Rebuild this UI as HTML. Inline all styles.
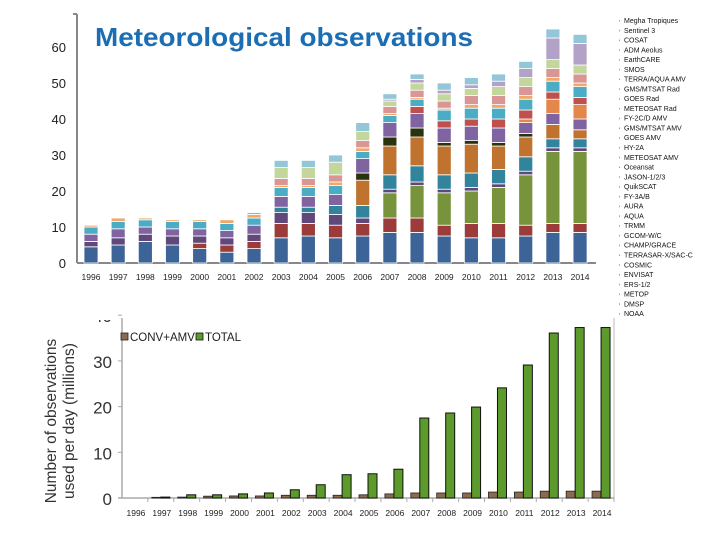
<!DOCTYPE html>
<html><head><meta charset="utf-8"><style>
html,body{margin:0;padding:0;background:#fff;}
svg{display:block;font-family:"Liberation Sans",sans-serif;}
</style></head><body>
<svg id="c" width="720" height="540" viewBox="0 0 720 540" xmlns="http://www.w3.org/2000/svg">
<text x="95" y="46" font-size="26" font-weight="bold" fill="#1b6db4" textLength="378" lengthAdjust="spacingAndGlyphs">Meteorological observations</text>
<g id="topg"></g><g id="legend"></g><g id="bot"></g>
<text transform="translate(64,421) rotate(-90)" text-anchor="middle" font-size="15.5" fill="#333"><tspan x="0" dy="-8">Number of observations</tspan><tspan x="0" dy="18">used per day (millions)</tspan></text>
</svg>
<script>
const years=["1996","1997","1998","1999","2000","2001","2002","2003","2004","2005","2006","2007","2008","2009","2010","2011","2012","2013","2014"];
// stacked series, bottom to top
const sNOAA   =[4.5,5,6,5,4,3,4,7,7.5,7,7.5,8.5,8.5,7.5,7,7,7.5,8.5,8.5];
const sDMSP   =[0,0,0,0,1.5,2,2,4,3.5,3.5,3.5,4,4,3,4,4,3,2.5,2.5];
const sMETOP  =[0,0,0,0,0,0,0,0,0,0,0,7,9,9,9,10,14,20,20];
const sERS    =[1.5,2,2,2.5,2,2,2,3,3,3,1.5,1,1,1,1,1,1,1,1];
const sCOSMIC =[0,0,0,0,0,0,0,1.5,1.5,2.5,3.5,4,4.5,4,4,4,4,2.5,2.5];
const sORANGE =[0,0,0,0,0,0,0,0,0,0,7,8,8,8,8,6.5,5.5,4,2.5];
const sDARK   =[0,0,0,0,0,0,0,0,0,0,2,2.5,2.5,1,1,1,1,0,0];
const sPURPLE =[2,2.5,2,2,2,2,2.5,3,3,3,4,4,4,4,4,4,3,3,3];
const sLORANGE=[0,0,0,0,0,0,0,0,0,0,0,0,0,0,0,0,1,4,4];
const sRED    =[0,0,0,0,0,0,0,0,0,0,0,0,2,2,2,2.5,2.5,2,2];
const sCYAN   =[2,2,2,2,2,2,2,2.5,2.5,2.5,2,2,2,3,3,3,3,3,3];
const sPEACH  =[0.5,1,0.5,0.5,0.5,1,1,0.5,0.5,1,1,0.5,0.5,0.5,1,1,1,1,1];
const sROSY   =[0,0,0,0,0,0,0.5,2,2,2,2,2,2,2,2.5,2.5,2.5,2.5,2.5];
const sLGREEN =[0,0,0,0,0,0,0,3,3,3.5,2.5,1.5,2,2,2,2.5,2.5,2.5,2.5];
const sLAV    =[0,0,0,0,0,0,0,0,0,0,0,0.5,1,1,1,1.5,2.5,6,6];
const sLBLUE  =[0,0,0,0,0,0,0,2,2,2,2.5,1.5,1.5,2,2,2,2,2.5,2.5];
const stackSeries=[sNOAA,sDMSP,sMETOP,sERS,sCOSMIC,sORANGE,sDARK,sPURPLE,sLORANGE,sRED,sCYAN,sPEACH,sROSY,sLGREEN,sLAV,sLBLUE];
const stackNames=["noaa","dmsp","metop","ers","cosmic","orange","dark","purple","light-orange","red","cyan","peach","rosy","light-green","lavender","light-blue"];
const stackColors=["#3d6496","#9b3b3a","#77933c","#60497a","#31849b","#c0722f","#2a330f","#8064a2","#e3884a","#c0504d","#4bacc6","#f0a868","#d99694","#c3d69b","#b3a2c7","#93c6d8"];
const topTicks=[0,10,20,30,40,50,60];
const legendItems=["Megha Tropiques","Sentinel 3","COSAT","ADM Aeolus","EarthCARE","SMOS","TERRA/AQUA AMV","GMS/MTSAT Rad","GOES Rad","METEOSAT Rad","FY-2C/D AMV","GMS/MTSAT AMV","GOES AMV","HY-2A","METEOSAT AMV","Oceansat","JASON-1/2/3","QuikSCAT","FY-3A/B","AURA","AQUA","TRMM","GCOM-W/C","CHAMP/GRACE","TERRASAR-X/SAC-C","COSMIC","ENVISAT","ERS-1/2","METOP","DMSP","NOAA"];
const convAmv=[0,0.15,0.2,0.4,0.45,0.45,0.6,0.6,0.6,0.7,0.9,1.1,1.1,1.1,1.3,1.3,1.5,1.5,1.5];
const total=[0,0.2,0.7,0.7,0.9,1.1,1.8,2.9,5.1,5.3,6.3,17.5,18.6,19.9,24.1,29.1,36.1,37.3,37.3];
const botTicks=[0,10,20,30,40];

const NS="http://www.w3.org/2000/svg";
function mk(p,t,a){const e=document.createElementNS(NS,t);for(const k in a)e.setAttribute(k,a[k]);p.appendChild(e);return e;}

// top chart
const topG=document.getElementById('topg');
const ty=v=>263-v*3.6;
const tx=i=>91+i*27.17;
const ax=mk(topG,'line',{x1:77,y1:14,x2:77,y2:263,stroke:'#888','stroke-width':2});


mk(topG,'line',{x1:73,y1:14,x2:77,y2:14,stroke:'#888','stroke-width':2});
const xl=mk(topG,'line',{x1:77,y1:263,x2:596,y2:263,stroke:'#888','stroke-width':2});


topTicks.forEach(t=>{
  const e=mk(topG,'text',{x:66,y:ty(t)+5,'font-size':13,'text-anchor':'end',fill:'#222'});
  e.textContent=t;
  
  
});
years.forEach((y,i)=>{
  const e=mk(topG,'text',{x:tx(i),y:280,'font-size':8.5,'text-anchor':'middle',fill:'#222'});
  e.textContent=y;
  
  
  let cum=0;
  stackSeries.forEach((s,k)=>{
    const v=s[i]; if(!v) return;
    const r=mk(topG,'rect',{x:tx(i)-7,y:ty(cum+v),width:14,height:v*3.6,fill:stackColors[k],stroke:'#fff','stroke-width':0.8});
    
    
    cum+=v;
  });
});
// legend
const lg=document.getElementById('legend');
legendItems.forEach((n,i)=>{
  const yy=23+i*9.77;
  mk(lg,'rect',{x:619,y:yy-3,width:1,height:1.5,fill:'#999'});
  const e=mk(lg,'text',{x:624,y:yy,'font-size':7,fill:'#111'});
  e.textContent=n;
  
  
});

// bottom chart
const bot=document.getElementById('bot');
const by=v=>498-v*4.57;
const slot=(614-122)/19;
const bx=i=>122+slot*(i+0.5);
const clipP=mk(bot,'clipPath',{id:'cp'});
mk(clipP,'rect',{x:0,y:320,width:720,height:200});
const ya=mk(bot,'line',{x1:122,y1:318,x2:122,y2:498,stroke:'#aaa','stroke-width':1.5});


mk(bot,'line',{x1:614,y1:318,x2:614,y2:498,stroke:'#bbb','stroke-width':1});
const xa=mk(bot,'line',{x1:118,y1:498,x2:614,y2:498,stroke:'#aaa','stroke-width':1.5});


botTicks.forEach(t=>{
  const e=mk(bot,'text',{x:112,y:by(t)+7,'font-size':17,'text-anchor':'end',fill:'#333','clip-path':'url(#cp)'});
  e.textContent=t;
  
  
  mk(bot,'line',{x1:118,y1:by(t),x2:122,y2:by(t),stroke:'#aaa'});
});
years.forEach((y,i)=>{
  mk(bot,'line',{x1:122+slot*(i+1),y1:498,x2:122+slot*(i+1),y2:502,stroke:'#aaa'});
  const e=mk(bot,'text',{x:bx(i)+1,y:516,'font-size':8.5,'text-anchor':'middle',fill:'#222'});
  e.textContent=y;
  
  
  if(convAmv[i]>0){
    const r=mk(bot,'rect',{x:bx(i)-9,y:by(convAmv[i]),width:9,height:convAmv[i]*4.57,fill:'#8b6a4e',stroke:'#222','stroke-width':0.8});
    
    
  }
  if(total[i]>0){
    const r=mk(bot,'rect',{x:bx(i),y:by(total[i]),width:9,height:total[i]*4.57,fill:'#5b9a2b',stroke:'#111','stroke-width':1});
    
    
  }
});
const l1=mk(bot,'rect',{x:121,y:333,width:7,height:7,fill:'#8b6a4e',stroke:'#222','stroke-width':0.8});


const t1=mk(bot,'text',{x:130,y:341,'font-size':11.5,fill:'#222'});t1.textContent='CONV+AMV';


const l2=mk(bot,'rect',{x:196,y:333,width:7,height:7,fill:'#5b9a2b',stroke:'#111','stroke-width':0.8});


const t2=mk(bot,'text',{x:205,y:341,'font-size':11.5,fill:'#222'});t2.textContent='TOTAL';


</script>
</body></html>
